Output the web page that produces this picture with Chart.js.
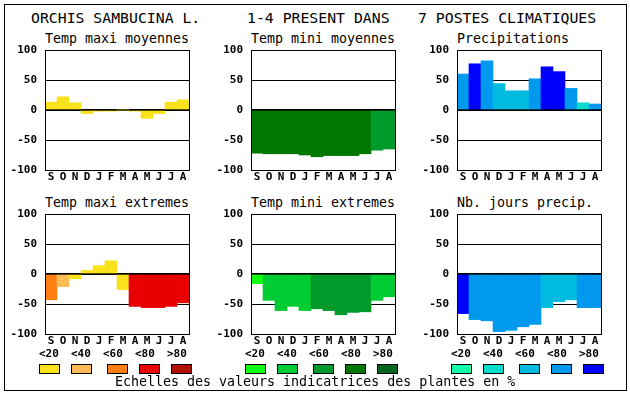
<!DOCTYPE html>
<html lang="fr">
<head>
<meta charset="utf-8">
<title>Orchis sambucina L.</title>
<script src="https://cdn.jsdelivr.net/npm/chart.js"></script>
<style>
    body { margin: 0; background: #fff; font-family: "DejaVu Sans Mono", monospace; color: #000; }
    #page { position: relative; width: 630px; height: 394px; }
    #cadre { position: absolute; left: 4px; top: 4px; width: 621px; height: 385px; border: 1px solid #000; }
    .t { position: absolute; white-space: pre; line-height: 1; }
    .titre { font-size: 14.8px; top: 10.5px; }
    .sous { font-size: 13.3px; }
    .lab { font-size: 11px; font-weight: bold; top: 348px; }
    .case { position: absolute; top: 364px; width: 19px; height: 8px; border: 1px solid #000; }
    canvas { position: absolute; }
</style>
</head>
<body>
<div id="page">
    <div id="cadre"></div>
    <div class="t titre" style="left:31px">ORCHIS SAMBUCINA L.</div>
    <div class="t titre" style="left:247px">1-4 PRESENT DANS</div>
    <div class="t titre" style="left:418px">7 POSTES CLIMATIQUES</div>

    <div class="t sous" style="left:45px;top:32px">Temp maxi moyennes</div>
    <div class="t sous" style="left:251px;top:32px">Temp mini moyennes</div>
    <div class="t sous" style="left:457px;top:32px">Precipitations</div>
    <div class="t sous" style="left:45px;top:195.5px">Temp maxi extremes</div>
    <div class="t sous" style="left:251px;top:195.5px">Temp mini extremes</div>
    <div class="t sous" style="left:457px;top:195.5px">Nb. jours precip.</div>

    <canvas id="c1" width="191" height="152" style="left:0px;top:34px"></canvas>
    <canvas id="c2" width="191" height="152" style="left:206px;top:34px"></canvas>
    <canvas id="c3" width="191" height="152" style="left:412px;top:34px"></canvas>
    <canvas id="c4" width="191" height="152" style="left:0px;top:198px"></canvas>
    <canvas id="c5" width="191" height="152" style="left:206px;top:198px"></canvas>
    <canvas id="c6" width="191" height="152" style="left:412px;top:198px"></canvas>

    <div id="legendes"></div>
    <div class="t sous" style="left:115px;top:375px">Echelles des valeurs indicatrices des plantes en %</div>
</div>

<script>
    // mois, de septembre a aout
    var months = ['S', 'O', 'N', 'D', 'J', 'F', 'M', 'A', 'M', 'J', 'J', 'A'];
    var classLabels = ['<20', '<40', '<60', '<80', '>80'];

    var tmaxMoy = [13, 22, 12, -6, -2, -2, 0, -2, -14, -6, 13, 17];
    var tmaxMoyCls = [0, 0, 0, 0, 0, 0, 0, 0, 0, 0, 0, 0];
    var tminMoy = [-72, -73, -73, -73, -75, -78, -76, -76, -76, -73, -67, -65];
    var tminMoyCls = [3, 3, 3, 3, 3, 3, 3, 3, 3, 3, 2, 2];
    var precip = [60, 77, 82, 44, 32, 32, 52, 72, 64, 36, 12, 10];
    var precipCls = [3, 4, 3, 2, 2, 2, 3, 4, 4, 3, 1, 3];
    var tmaxExt = [-43, -21, -8, 6, 14, 22, -26, -54, -56, -56, -54, -48];
    var tmaxExtCls = [2, 1, 0, 0, 0, 0, 0, 3, 3, 3, 3, 3];
    var tminExt = [-16, -44, -61, -54, -61, -58, -61, -68, -64, -63, -44, -38];
    var tminExtCls = [0, 1, 1, 1, 1, 2, 2, 2, 2, 2, 1, 1];
    var joursPrec = [-66, -76, -78, -96, -94, -88, -84, -56, -46, -43, -56, -56];
    var joursPrecCls = [4, 3, 3, 3, 3, 3, 3, 2, 2, 2, 3, 3];

    var warm = ['#f9e21c', '#ffbb55', '#ff8010', '#e80000', '#b01000'];
    var greens = ['#10ff10', '#00cc33', '#009a2b', '#007800', '#006622'];
    var blues = ['#11ffaa', '#00ddcc', '#00bbdd', '#0099ee', '#0000ff'];

    Chart.defaults.font.family = '"DejaVu Sans Mono", monospace';
    Chart.defaults.color = '#000';

    // cadre noir autour de la zone de trace
    var frame = {
        id: 'frame',
        afterDraw: function (chart) {
            var ctx = chart.ctx, a = chart.chartArea;
            ctx.save();
            ctx.strokeStyle = '#000';
            ctx.lineWidth = 1;
            ctx.strokeRect(a.left + 0.5, a.top + 0.5, a.right - a.left, a.bottom - a.top);
            ctx.restore();
        }
    };

    function makeChart(id, values, classes, palette) {
        return new Chart(document.getElementById(id), {
            type: 'bar',
            data: {
                labels: months,
                datasets: [{
                    data: values,
                    backgroundColor: classes.map(function (c) { return palette[c]; }),
                    borderWidth: 0,
                    categoryPercentage: 1,
                    barPercentage: 1
                }]
            },
            options: {
                responsive: false,
                animation: false,
                events: [],
                layout: { padding: { top: 16, right: 2, left: 0, bottom: 0 } },
                plugins: { legend: { display: false }, tooltip: { enabled: false } },
                scales: {
                    x: {
                        grid: { display: false, drawTicks: false },
                        border: { display: false },
                        ticks: { padding: 1, autoSkip: false, maxRotation: 0, font: { size: 11, weight: 'bold' } },
                        afterFit: function (s) { s.height = 16; }
                    },
                    y: {
                        min: -100,
                        max: 100,
                        z: 1,
                        ticks: { stepSize: 50, padding: 8, font: { size: 11, weight: 'bold' } },
                        grid: {
                            color: '#000',
                            drawTicks: false,
                            lineWidth: function (c) { return c.tick && c.tick.value === 0 ? 2 : 1; }
                        },
                        border: { color: '#000' },
                        afterFit: function (s) { s.width = 45; }
                    }
                }
            },
            plugins: [frame]
        });
    }

    makeChart('c1', tmaxMoy, tmaxMoyCls, warm);
    makeChart('c2', tminMoy, tminMoyCls, greens);
    makeChart('c3', precip, precipCls, blues);
    makeChart('c4', tmaxExt, tmaxExtCls, warm);
    makeChart('c5', tminExt, tminExtCls, greens);
    makeChart('c6', joursPrec, joursPrecCls, blues);

    // echelles de couleurs sous chaque colonne du bas
    var legendes = document.getElementById('legendes');
    var palettes = [warm, greens, blues];
    var colLeft = [39, 245, 451];
    var labelStep = [0, 32, 64, 96, 128];
    var boxStep = [0, 32, 68, 100, 132];
    for (var p = 0; p < palettes.length; p++) {
        for (var k = 0; k < classLabels.length; k++) {
            var lab = document.createElement('div');
            lab.className = 't lab';
            lab.style.left = (colLeft[p] + labelStep[k]) + 'px';
            lab.textContent = classLabels[k];
            legendes.appendChild(lab);
            var box = document.createElement('div');
            box.className = 'case';
            box.style.left = (colLeft[p] + boxStep[k]) + 'px';
            box.style.background = palettes[p][k];
            legendes.appendChild(box);
        }
    }
</script>
</body>
</html>
